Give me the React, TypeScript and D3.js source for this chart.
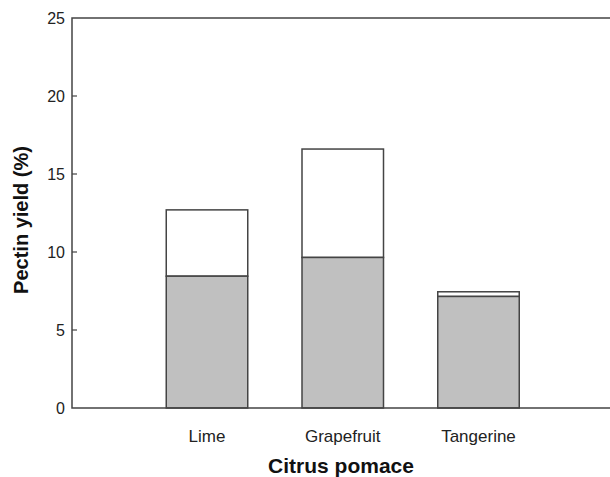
import React from "react";
import * as d3 from "d3";

const categories = ["Lime", "Grapefruit", "Tangerine"];
const lowerValues = [8.45, 9.65, 7.15];
const totalValues = [12.7, 16.6, 7.45];
const yTicks = [0, 5, 10, 15, 20, 25];

const W = 610;
const H = 477;
const left = 72;
const right = 740;
const top = 18;
const bottom = 408;

export default function App() {
  const y = d3.scaleLinear().domain([0, 25]).range([bottom, top]);
  const xc = d3.scalePoint<string>().domain(categories).range([207, 478.5]);
  const bw = 81.5;
  const stroke = "#444";
  const font = "Liberation Sans, Arial, sans-serif";
  return (
    <svg
      width={W}
      height={H}
      style={{ position: "absolute", left: 0, top: 0, background: "#fff" }}
      fontFamily={font}
    >
      <rect x={0} y={0} width={W} height={H} fill="#fff" />
      {categories.map((c, i) => {
        const cx = xc(c) as number;
        return (
          <g key={c}>
            <rect
              x={cx - bw / 2}
              y={y(totalValues[i])}
              width={bw}
              height={y(lowerValues[i]) - y(totalValues[i])}
              fill="#fff"
              stroke={stroke}
              strokeWidth={1.5}
            />
            <rect
              x={cx - bw / 2}
              y={y(lowerValues[i])}
              width={bw}
              height={y(0) - y(lowerValues[i])}
              fill="#c0c0c0"
              stroke={stroke}
              strokeWidth={1.5}
            />
            <text x={cx} y={442} textAnchor="middle" fontSize={17} fill="#222">
              {c}
            </text>
          </g>
        );
      })}
      <path
        d={`M${right},${top}H${left}V${bottom}H${right}`}
        fill="none"
        stroke={stroke}
        strokeWidth={1.5}
      />
      {yTicks.map((t) => (
        <g key={t}>
          {t > 0 && t < 25 && (
            <line x1={left} x2={left + 5} y1={y(t)} y2={y(t)} stroke={stroke} strokeWidth={1.2} />
          )}
          <text x={left - 7} y={y(t) + 5.5} textAnchor="end" fontSize={16} fill="#222">
            {t}
          </text>
        </g>
      ))}
      <text
        transform={`translate(28,220) rotate(-90)`}
        textAnchor="middle"
        fontSize={20}
        fontWeight="bold"
        fill="#111"
      >
        Pectin yield (%)
      </text>
      <text x={341} y={473} textAnchor="middle" fontSize={21} fontWeight="bold" fill="#111">
        Citrus pomace
      </text>
    </svg>
  );
}
